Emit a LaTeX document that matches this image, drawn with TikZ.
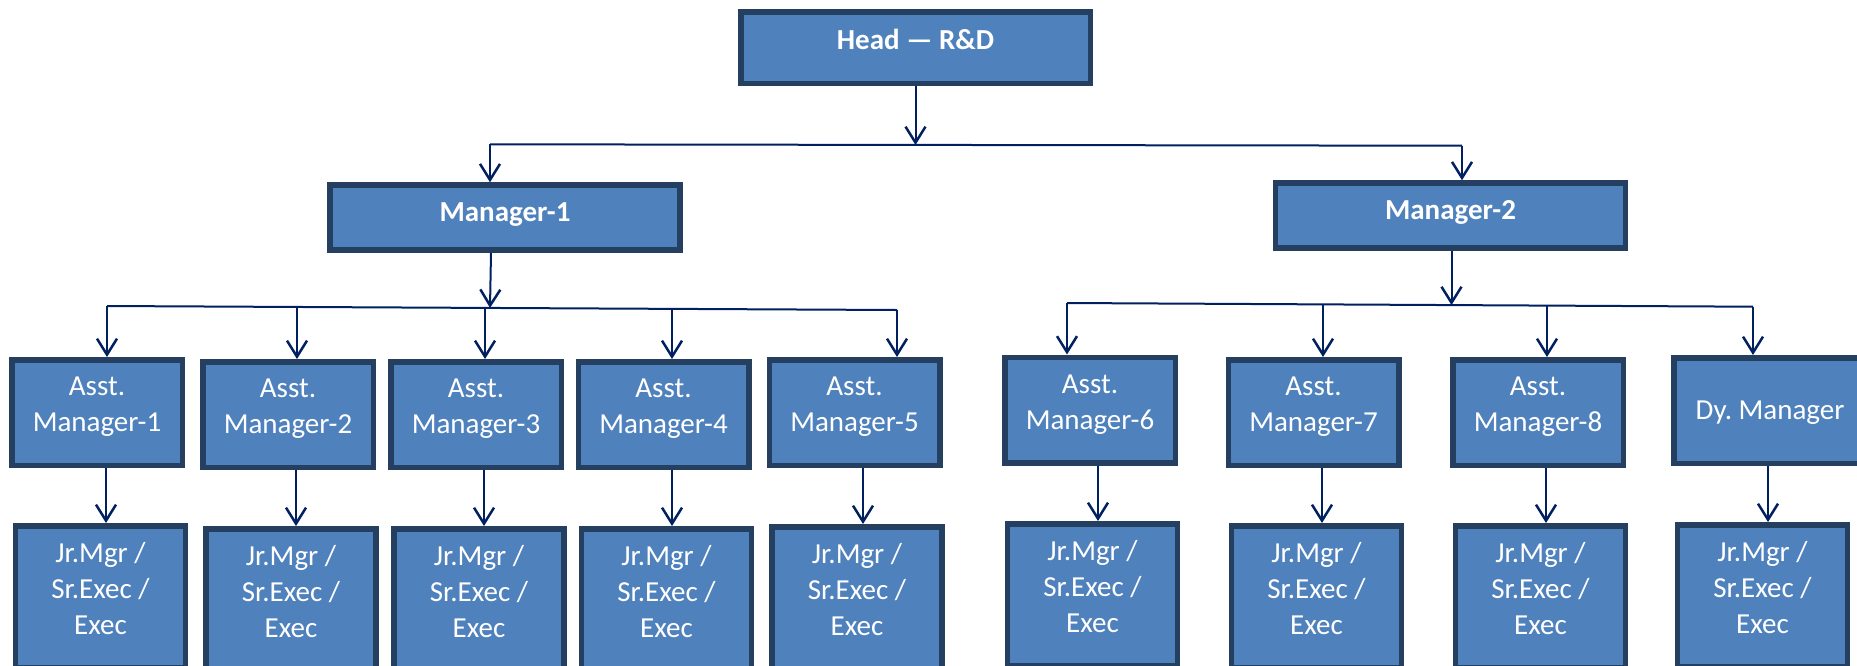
\documentclass[tikz,border=0pt]{standalone}
\usepackage{fontspec}
\setmainfont{Carlito}
\usetikzlibrary{arrows.meta}
\definecolor{boxfill}{HTML}{4F81BD}
\definecolor{boxline}{HTML}{243F60}
\definecolor{arr}{HTML}{002060}
\newcommand\mystk[1]{\begin{tabular}[t]{@{}c@{}}#1\end{tabular}}
\frenchspacing
\begin{document}
\begin{tikzpicture}[x=1pt,y=-1pt,
  box/.style={draw=boxline, line width=5.5pt, fill=boxfill, text=white, inner sep=0pt,
    font=\fontsize{29}{36}\selectfont},
  topbox/.style={box, font=\fontsize{29}{36}\selectfont\bfseries,
    minimum width=349.5pt, minimum height=71.5pt, text height=38pt, text depth=33.5pt},
  mgrbox/.style={box, font=\fontsize{29}{36}\selectfont\bfseries,
    minimum width=350pt, minimum height=65pt, text height=36.5pt, text depth=28.5pt},
  amgr/.style={box, minimum width=170.5pt, minimum height=105.5pt,
    text height=36pt, text depth=69.5pt},
  jrbox/.style={box, minimum width=170pt, minimum height=141.5pt,
    text height=37pt, text depth=104.5pt},
  conn/.style={draw=arr, line width=2pt},
  arw/.style={conn, -{Straight Barb[length=16pt,width=20pt,line width=2.5pt]}}
]
\path[use as bounding box, clip] (0,0) rectangle (1857,665);

% boxes
\node[topbox] (head) at (915.5,47.5) {Head --- R\&D};
\node[mgrbox] (m1) at (505,217.5) {Manager-1};
\node[mgrbox] (m2) at (1450.5,215.5) {Manager-2};

\node[amgr] (a1) at (97,412.5)    {\mystk{Asst.\\Manager-1}};
\node[amgr] (a2) at (288,414.5)   {\mystk{Asst.\\Manager-2}};
\node[amgr] (a3) at (476,414.5)   {\mystk{Asst.\\Manager-3}};
\node[amgr] (a4) at (663.5,414.5) {\mystk{Asst.\\Manager-4}};
\node[amgr] (a5) at (854.5,412.5) {\mystk{Asst.\\Manager-5}};
\node[amgr] (a6) at (1090,410)    {\mystk{Asst.\\Manager-6}};
\node[amgr] (a7) at (1313.5,412.5){\mystk{Asst.\\Manager-7}};
\node[amgr] (a8) at (1538,412.5)  {\mystk{Asst.\\Manager-8}};
\node[amgr, minimum width=192.5pt, text height=61.5pt, text depth=44pt] (dy) at (1770,410.5) {Dy.\ Manager};

\node[jrbox] (j1) at (100.5,596.5)  {\mystk{Jr.Mgr /\\Sr.Exec /\\Exec}};
\node[jrbox] (j2) at (291,599.5)    {\mystk{Jr.Mgr /\\Sr.Exec /\\Exec}};
\node[jrbox] (j3) at (479,599.5)    {\mystk{Jr.Mgr /\\Sr.Exec /\\Exec}};
\node[jrbox] (j4) at (666.5,599.5)  {\mystk{Jr.Mgr /\\Sr.Exec /\\Exec}};
\node[jrbox] (j5) at (857,597.5)    {\mystk{Jr.Mgr /\\Sr.Exec /\\Exec}};
\node[jrbox] (j6) at (1092.5,594.5) {\mystk{Jr.Mgr /\\Sr.Exec /\\Exec}};
\node[jrbox] (j7) at (1316.5,596.5) {\mystk{Jr.Mgr /\\Sr.Exec /\\Exec}};
\node[jrbox] (j8) at (1540.5,596.5) {\mystk{Jr.Mgr /\\Sr.Exec /\\Exec}};
\node[jrbox] (j9) at (1762.5,595.5) {\mystk{Jr.Mgr /\\Sr.Exec /\\Exec}};

% level 1 bar
\coordinate (tL) at (490,144.3);
\coordinate (tR) at (1462,145.7);
\coordinate (tH) at (915.5,145);
\draw[arw] (head.south) -- (tH);
\draw[conn] (tL) -- (tR);
\draw[arw] (tL) -- (tL |- m1.north);
\draw[arw] (tR) -- (tR |- m2.north);

% Manager-1 bar
\coordinate (l1) at (107,306);
\coordinate (l2) at (297,307);
\coordinate (l3) at (485,307.9);
\coordinate (l4) at (672,308.9);
\coordinate (l5) at (897,310);
\coordinate (lM) at (490,307.9);
\draw[arw] ([xshift=-14pt]m1.south) -- (lM);
\draw[conn] (l1) -- (l5);
\draw[arw] (l1) -- (l1 |- a1.north);
\draw[arw] (l2) -- (l2 |- a2.north);
\draw[arw] (l3) -- (l3 |- a3.north);
\draw[arw] (l4) -- (l4 |- a4.north);
\draw[arw] (l5) -- (l5 |- a5.north);

% Manager-2 bar
\coordinate (r1) at (1067,303);
\coordinate (r2) at (1323,304.4);
\coordinate (r3) at (1547,305.6);
\coordinate (r4) at (1753,306.7);
\coordinate (rM) at (1451.5,305.1);
\draw[arw] ([xshift=1pt]m2.south) -- (rM);
\draw[conn] (r1) -- (r4);
\draw[arw] (r1) -- (r1 |- a6.north);
\draw[arw] (r2) -- (r2 |- a7.north);
\draw[arw] (r3) -- (r3 |- a8.north);
\draw[arw] (r4) -- (r4 |- dy.north);

% assistant to junior
\draw[arw] ([xshift=9pt]a1.south) -- ([xshift=9pt]a1.south |- j1.north);
\draw[arw] ([xshift=8pt]a2.south) -- ([xshift=8pt]a2.south |- j2.north);
\draw[arw] ([xshift=8pt]a3.south) -- ([xshift=8pt]a3.south |- j3.north);
\draw[arw] ([xshift=8.5pt]a4.south) -- ([xshift=8.5pt]a4.south |- j4.north);
\draw[arw] ([xshift=8.5pt]a5.south) -- ([xshift=8.5pt]a5.south |- j5.north);
\draw[arw] ([xshift=8pt]a6.south) -- ([xshift=8pt]a6.south |- j6.north);
\draw[arw] ([xshift=8.5pt]a7.south) -- ([xshift=8.5pt]a7.south |- j7.north);
\draw[arw] ([xshift=8pt]a8.south) -- ([xshift=8pt]a8.south |- j8.north);
\draw[arw] ([xshift=-2pt]dy.south) -- ([xshift=-2pt]dy.south |- j9.north);
\end{tikzpicture}
\end{document}
